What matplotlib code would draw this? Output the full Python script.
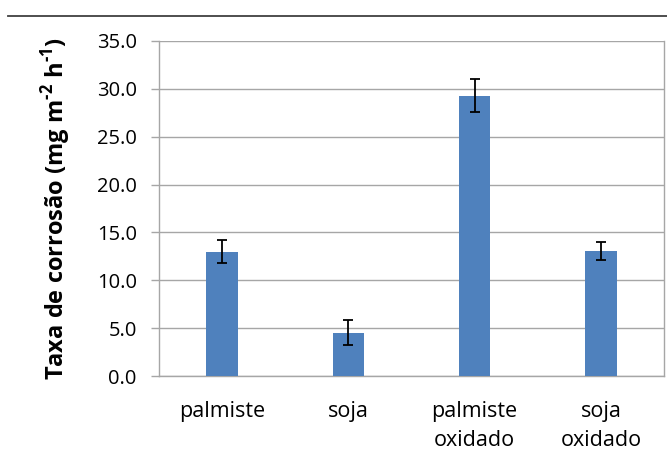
import matplotlib
matplotlib.use("Agg")
import matplotlib.pyplot as plt
from matplotlib.lines import Line2D

plt.rcParams['font.family'] = ['Open Sans', 'DejaVu Sans']
plt.rcParams['mathtext.fontset'] = 'custom'
plt.rcParams['mathtext.rm'] = 'Open Sans:bold'

categories = ["palmiste", "soja", "palmiste\noxidado", "soja\noxidado"]
taxa = [13.0, 4.5, 29.3, 13.1]
desvio = [1.2, 1.3, 1.75, 0.95]
yticks = [0.0, 5.0, 10.0, 15.0, 20.0, 25.0, 30.0, 35.0]

fig = plt.figure(figsize=(6.67, 4.67), dpi=100)
ax = fig.add_axes([159 / 667, 1 - 376 / 467, 505 / 667, 335 / 467])

x = list(range(len(categories)))
ax.bar(x, taxa, width=0.25, color="#4F81BD", zorder=3,
       yerr=desvio, capsize=3.5,
       error_kw=dict(ecolor="black", elinewidth=1.3, capthick=1.3, zorder=4))

ax.set_xlim(-0.5, len(categories) - 0.5)
ax.set_ylim(0, 35)
ax.set_yticks(yticks)
ax.set_yticklabels([f"{v:.1f}" for v in yticks])
ax.set_xticks(x)
ax.set_xticklabels(categories, linespacing=1.5)

ax.yaxis.grid(True, color="#A6A6A6", linewidth=1.0, zorder=0)
ax.xaxis.grid(False)
for side in ["left", "bottom", "right"]:
    ax.spines[side].set_color("#A6A6A6")
    ax.spines[side].set_linewidth(1.0)
ax.spines["top"].set_visible(False)

ax.tick_params(axis="y", length=6, width=1.0, color="#A6A6A6", labelsize=14.5, pad=10)
ax.tick_params(axis="x", length=0, labelsize=15.5, pad=18)

ax.set_ylabel("Taxa de corrosão (mg m$^{\\text{-2}}$ h$^{\\text{-1}}$)",
              fontsize=17, fontweight="bold")
ax.yaxis.set_label_coords(-0.17, 0.5)

fig.add_artist(Line2D([8 / 667, 1.0], [1 - 16 / 467, 1 - 16 / 467],
                      color="#404040", linewidth=1.3, transform=fig.transFigure))

fig.savefig("out.png", dpi=100)
